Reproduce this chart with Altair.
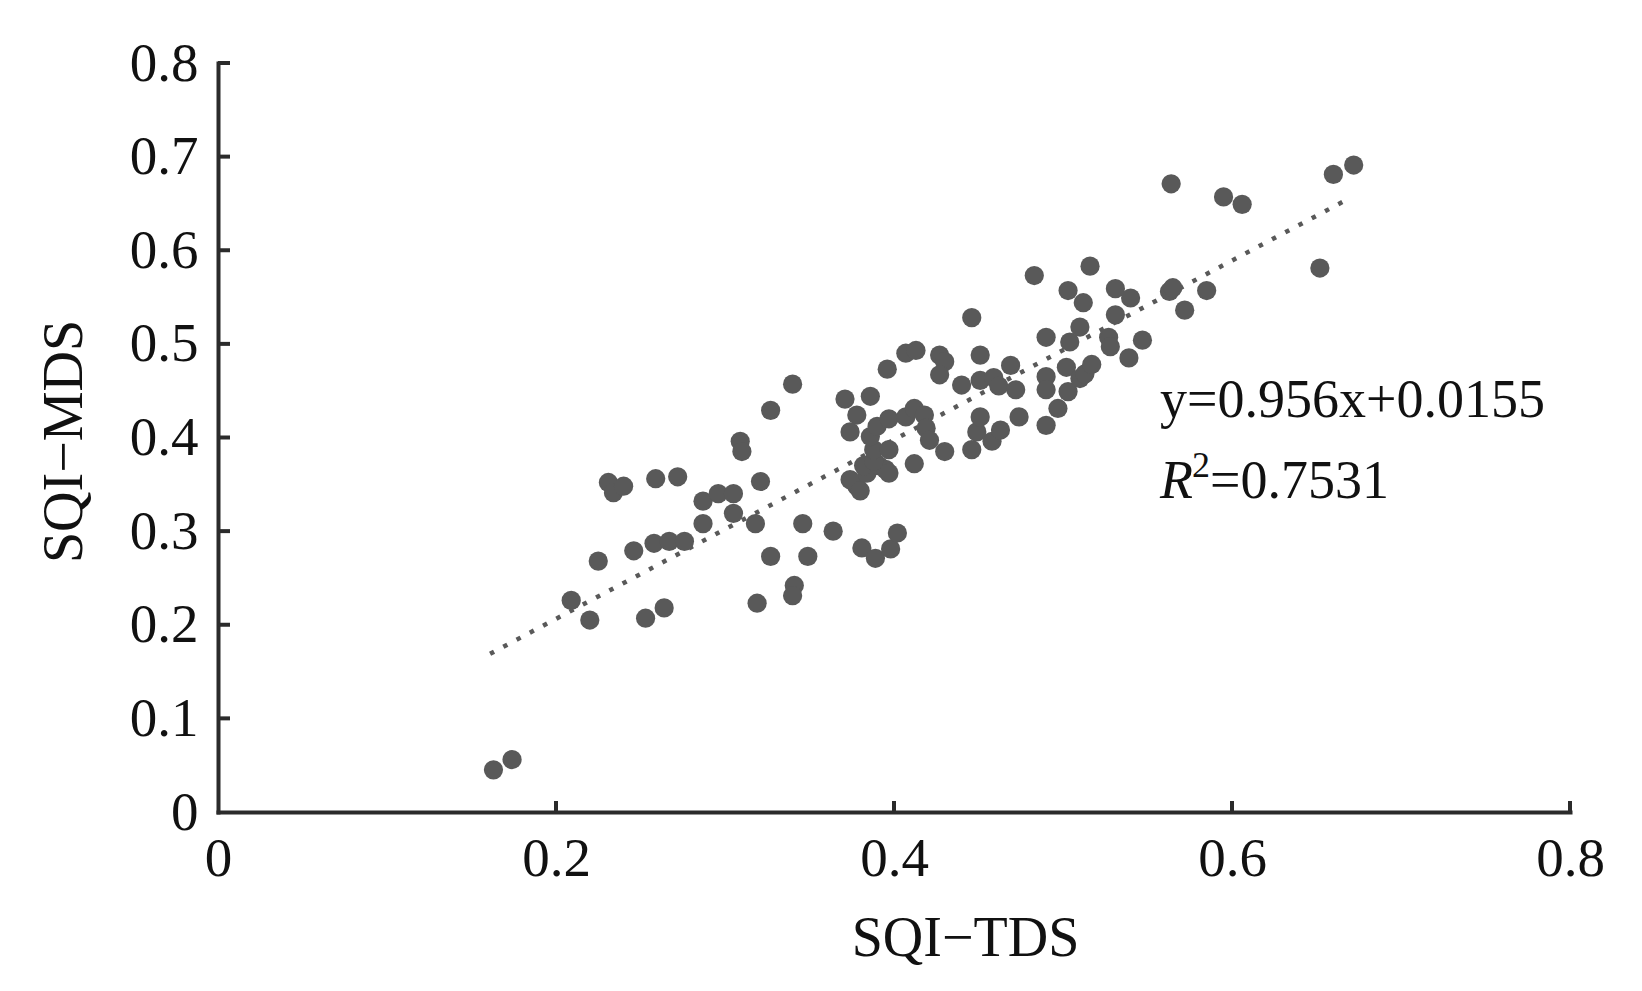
import altair as alt
import pandas as pd

# SQI-TDS (x) and SQI-MDS (y) values
sqi_tds = [
    0.163, 0.174, 0.209, 0.220, 0.225, 0.231, 0.234, 0.240, 0.246, 0.253,
    0.258, 0.259, 0.264, 0.267, 0.272, 0.276, 0.287, 0.287, 0.296, 0.305,
    0.305, 0.309, 0.310, 0.318, 0.319, 0.321, 0.327, 0.327, 0.340, 0.341,
    0.340, 0.346, 0.349, 0.364, 0.381, 0.389, 0.398, 0.402,
    0.371, 0.386, 0.378, 0.374, 0.378, 0.374, 0.384, 0.382, 0.391, 0.395,
    0.397, 0.380, 0.388, 0.388, 0.397, 0.386, 0.390, 0.397, 0.407, 0.412,
    0.418, 0.419, 0.412, 0.421, 0.430, 0.396, 0.407, 0.413, 0.427, 0.430,
    0.427, 0.446, 0.449, 0.451, 0.458, 0.463, 0.474, 0.490, 0.497, 0.440,
    0.451, 0.459, 0.462, 0.472, 0.469, 0.451, 0.446, 0.490, 0.490, 0.490,
    0.483,
    0.503, 0.502, 0.504, 0.510, 0.503, 0.512, 0.516, 0.510, 0.513, 0.517,
    0.527, 0.528, 0.531, 0.531, 0.539, 0.540, 0.547, 0.563, 0.565, 0.572,
    0.585, 0.564, 0.595, 0.606, 0.652, 0.660, 0.672,
]
sqi_mds = [
    0.045, 0.056, 0.226, 0.205, 0.268, 0.352, 0.341, 0.348, 0.279, 0.207,
    0.287, 0.356, 0.218, 0.289, 0.358, 0.289, 0.332, 0.308, 0.340, 0.340,
    0.319, 0.396, 0.385, 0.308, 0.223, 0.353, 0.429, 0.273, 0.457, 0.242,
    0.231, 0.308, 0.273, 0.300, 0.282, 0.271, 0.281, 0.298,
    0.441, 0.444, 0.424, 0.406, 0.348, 0.355, 0.362, 0.370, 0.370, 0.366,
    0.362, 0.343, 0.375, 0.387, 0.387, 0.401, 0.412, 0.420, 0.422, 0.431,
    0.424, 0.410, 0.372, 0.397, 0.385, 0.473, 0.490, 0.493, 0.488, 0.481,
    0.467, 0.387, 0.406, 0.422, 0.396, 0.408, 0.422, 0.413, 0.431, 0.456,
    0.461, 0.464, 0.455, 0.451, 0.477, 0.488, 0.528, 0.507, 0.465, 0.451,
    0.573,
    0.449, 0.475, 0.502, 0.518, 0.557, 0.544, 0.583, 0.463, 0.468, 0.478,
    0.507, 0.497, 0.531, 0.559, 0.485, 0.549, 0.504, 0.556, 0.560, 0.536,
    0.557, 0.671, 0.657, 0.649, 0.581, 0.681, 0.691,
]

# fitted line end points (y = 0.956x + 0.0155)
trend_x = [0.161, 0.669]
trend_y = [0.169, 0.655]

x_ticks = [0.2, 0.4, 0.6, 0.8]
y_ticks = [0.1, 0.2, 0.3, 0.4, 0.5, 0.6, 0.7, 0.8]
tick_labels_x = [0, 0.2, 0.4, 0.6, 0.8]
tick_labels_y = [0, 0.1, 0.2, 0.3, 0.4, 0.5, 0.6, 0.7, 0.8]

eq_text = "y=0.956x+0.0155"
r_text = "R"
sup_text = "2"
r_val_text = "=0.7531"

x_title = "SQI\u2212TDS"
y_title = "SQI\u2212MDS"

FONT = "Liberation Serif"
DOT = "#595959"
AX = "#2b2b2b"

pts = pd.DataFrame({"x": sqi_tds, "y": sqi_mds})
trend = pd.DataFrame({"x": trend_x, "y": trend_y})

xs = alt.Scale(domain=[0, 0.8], nice=False, zero=False)
ys = alt.Scale(domain=[0, 0.8], nice=False, zero=False)

label_expr = "datum.value == 0 ? '0' : format(datum.value, '.1f')"

x_axis = alt.Axis(
    title=x_title, values=tick_labels_x, labelExpr=label_expr,
    titleX=747, titleY=143, titleAlign="center", titleBaseline="alphabetic",
    labelPadding=20, labelFlush=False,
)
y_axis = alt.Axis(
    title=y_title, values=tick_labels_y, labelExpr=label_expr,
    titleX=-137, titleY=378, titleAngle=270, titleAlign="center",
    titleBaseline="alphabetic", labelPadding=20,
)

X = alt.X("x:Q", scale=xs, axis=x_axis, title=x_title)
Y = alt.Y("y:Q", scale=ys, axis=y_axis, title=y_title)

points = alt.Chart(pts).mark_circle(size=370, color=DOT, opacity=1).encode(x=X, y=Y)

trend_line = alt.Chart(trend).mark_line(
    color=DOT, strokeWidth=4.5, strokeDash=[4.5, 10.5]
).encode(x=X, y=Y)

xtick_layer = alt.Chart(pd.DataFrame({"x": x_ticks})).mark_rule(
    color=AX, strokeWidth=4
).encode(x=X, y=alt.value(749), y2=alt.value(738))

ytick_layer = alt.Chart(pd.DataFrame({"y": y_ticks})).mark_rule(
    color=AX, strokeWidth=4
).encode(y=Y, x=alt.value(0), x2=alt.value(12))

def text_layer(txt, px, py, size, style="normal"):
    return alt.Chart(pd.DataFrame({"t": [txt]})).mark_text(
        font=FONT, fontSize=size, fontStyle=style, color="#111111",
        align="left", baseline="alphabetic",
    ).encode(x=alt.value(px), y=alt.value(py), text="t:N")

ann = (
    text_layer(eq_text, 942, 354, 54)
    + text_layer(r_text, 942, 435, 54, "italic")
    + text_layer(sup_text, 974, 414, 36)
    + text_layer(r_val_text, 992, 435, 54)
)

chart = alt.layer(
    trend_line, points, xtick_layer, ytick_layer, ann
).properties(
    width=1352, height=749,
    autosize=alt.AutoSizeParams(type="none"),
    padding={"left": 210, "top": 55, "right": 60, "bottom": 160},
    background="white",
).configure_view(
    strokeWidth=0
).configure_axis(
    grid=False, ticks=False, tickSize=0,
    domainColor=AX, domainWidth=4, domainCap="square",
    labelFont=FONT, labelFontSize=55, labelColor="#111111",
    titleFont=FONT, titleFontSize=56, titleFontWeight="normal", titleColor="#111111",
    labelOverlap=False,
)

chart.save("out.html", embed_options={"renderer": "svg", "actions": False})
